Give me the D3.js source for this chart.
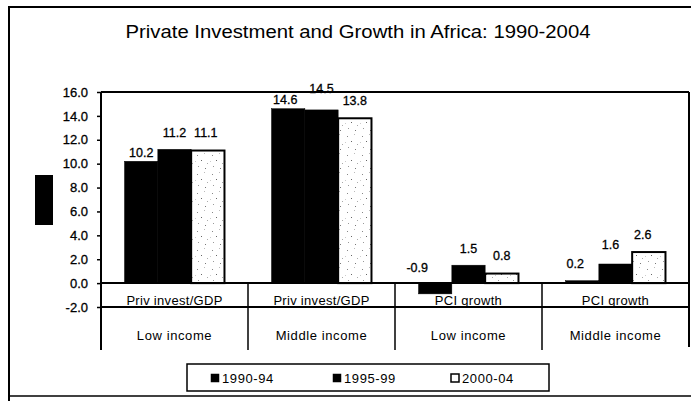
<!DOCTYPE html>
<html>
<head>
<meta charset="utf-8">
<script src="https://cdn.jsdelivr.net/npm/d3@7"></script>
<style>
  html, body { margin: 0; padding: 0; background: #fff; }
  svg text { font-family: "Liberation Sans", Arial, sans-serif; fill: #000; }
</style>
</head>
<body>
<svg id="chart" width="691" height="401"></svg>
<script>
const title    = 'Private Investment and Growth in Africa: 1990-2004';
const measures = ['Priv invest/GDP', 'Priv invest/GDP', 'PCI growth', 'PCI growth'];
const incomes  = ['Low income', 'Middle income', 'Low income', 'Middle income'];
const periods  = ['1990-94', '1995-99', '2000-04'];
const v1990    = [10.2, 14.6, -0.9, 0.2];
const v1995    = [11.2, 14.5, 1.5, 1.6];
const v2000    = [11.1, 13.8, 0.8, 2.6];
const yTicks   = [-2, 0, 2, 4, 6, 8, 10, 12, 14, 16];

const seriesVals = [v1990, v1995, v2000];
const groups = d3.range(measures.length);
const fmt = d3.formatLocale({ decimal: '.', thousands: ',', grouping: [3], currency: ['', ''], minus: '-' }).format('.1f');

const svg = d3.select('#chart');
const plot = { left: 101, right: 689, top: 92, bottom: 307 };

// manual label nudges, like labels dragged by hand in the original
const labelLift  = [[9, 17, 18], [9, 21, 18], [15, 17, 18], [17, 19, 17]];
const labelShift = [[0, 0, -2], [-3, 0, 0], [-18, 0, 0], [-7, -5, -6]];

// speckled fill for the last period
const pat = svg.append('defs').append('pattern')
    .attr('id', 'speckle')
    .attr('patternUnits', 'userSpaceOnUse')
    .attr('width', 15).attr('height', 19);
pat.append('rect').attr('width', 15).attr('height', 19).attr('fill', '#fff');
[[2, 3, '#888'], [9, 1, '#bbb'], [6, 8, '#666'], [12, 11, '#aaa'], [3, 14, '#999'], [10, 16, '#777'], [0, 9, '#ccc']]
    .forEach(([x, y, c]) => pat.append('rect')
        .attr('x', x).attr('y', y).attr('width', 1).attr('height', 1).attr('fill', c));

const fills = ['#000', '#000', 'url(#speckle)'];

// outer frame
svg.append('line').attr('x1', 9).attr('x2', 9).attr('y1', 6).attr('y2', 401)
    .attr('stroke', '#000').attr('stroke-width', 2);
svg.append('line').attr('x1', 9).attr('x2', 691).attr('y1', 7).attr('y2', 7)
    .attr('stroke', '#000').attr('stroke-width', 2);
svg.append('line').attr('x1', 9).attr('x2', 691).attr('y1', 396).attr('y2', 396)
    .attr('stroke', '#000').attr('stroke-width', 1.5);

// title
svg.append('text')
    .attr('x', 358).attr('y', 38)
    .attr('text-anchor', 'middle')
    .style('font-size', '17.5px')
    .attr('textLength', 465).attr('lengthAdjust', 'spacingAndGlyphs')
    .text(title);

// blacked-out axis title block
svg.append('rect').attr('x', 35).attr('y', 175).attr('width', 18).attr('height', 50).attr('fill', '#000');

const x0 = d3.scaleBand().domain(groups).range([plot.left, plot.right]).padding(0);
const bw = x0.bandwidth();
const x1 = d3.scaleBand().domain(d3.range(periods.length)).range([bw * 0.16, bw * 0.84]).padding(0);
const y  = d3.scaleLinear().domain([-2, 16]).range([plot.bottom, plot.top]);

// bars
const g = svg.append('g');
groups.forEach(gi => {
    seriesVals.forEach((vals, si) => {
        const v = vals[gi];
        g.append('rect')
            .attr('x', x0(gi) + x1(si))
            .attr('width', x1.bandwidth())
            .attr('y', y(Math.max(v, 0)))
            .attr('height', Math.abs(y(v) - y(0)))
            .attr('fill', fills[si])
            .attr('stroke', '#000')
            .attr('stroke-width', si === 2 ? 2 : 0.5);
        g.append('text')
            .attr('x', x0(gi) + x1(si) + x1.bandwidth() / 2 + labelShift[gi][si])
            .attr('y', y(Math.max(v, 0)) - labelLift[gi][si])
            .attr('dy', '0.35em')
            .attr('text-anchor', 'middle')
            .style('font-size', '12.5px')
            .style('stroke', '#000').style('stroke-width', 0.3)
            .text(fmt(v));
    });
});

// plot frame and zero line
const frame = svg.append('g').attr('stroke', '#000');
frame.append('line').attr('x1', plot.left).attr('x2', plot.right).attr('y1', plot.top).attr('y2', plot.top).attr('stroke-width', 2);
frame.append('line').attr('x1', plot.right).attr('x2', plot.right).attr('y1', plot.top).attr('y2', 347).attr('stroke-width', 2);
frame.append('line').attr('x1', plot.left).attr('x2', plot.right).attr('y1', plot.bottom).attr('y2', plot.bottom).attr('stroke-width', 2);
frame.append('line').attr('x1', plot.left).attr('x2', plot.right).attr('y1', y(0)).attr('y2', y(0)).attr('stroke-width', 2);
groups.slice(1).forEach(gi => {
    frame.append('line').attr('x1', x0(gi)).attr('x2', x0(gi))
        .attr('y1', y(0)).attr('y2', 350).attr('stroke-width', 1.5);
});

// y axis
const yAxis = svg.append('g')
    .attr('transform', `translate(${plot.left},0)`)
    .call(d3.axisLeft(y).tickValues(yTicks).tickFormat(fmt).tickSize(4).tickPadding(9));
yAxis.select('.domain').attr('d', `M0,${plot.top}V350`).attr('stroke-width', 2);
yAxis.selectAll('.tick line').attr('stroke-width', 1.5);
yAxis.selectAll('text')
    .style('font-size', '13px')
    .style('font-family', '"Liberation Sans", Arial, sans-serif')
    .style('stroke', '#000').style('stroke-width', 0.3);

// two-level category labels
groups.forEach(gi => {
    const cx = x0(gi) + bw / 2;
    svg.append('text').attr('x', cx).attr('y', 305)
        .attr('text-anchor', 'middle').style('font-size', '13px').style('letter-spacing', '0.3px')
        .text(measures[gi]);
    svg.append('text').attr('x', cx).attr('y', 340)
        .attr('text-anchor', 'middle').style('font-size', '13px').style('letter-spacing', '0.6px')
        .text(incomes[gi]);
});

// legend
const lg = svg.append('g');
lg.append('rect').attr('x', 187).attr('y', 364).attr('width', 362).attr('height', 27)
    .attr('fill', '#fff').attr('stroke', '#000').attr('stroke-width', 1.5);
const legX = [215, 337, 455];
periods.forEach((p, i) => {
    lg.append('rect').attr('x', legX[i] - 4).attr('y', 374).attr('width', 8).attr('height', 8)
        .attr('fill', i === 2 ? '#fff' : '#000').attr('stroke', '#000').attr('stroke-width', i === 2 ? 1.5 : 0.5);
    lg.append('text').attr('x', legX[i] + 7).attr('y', 383)
        .style('font-size', '13px').style('letter-spacing', '0.6px')
        .text(p);
});
</script>
</body>
</html>
